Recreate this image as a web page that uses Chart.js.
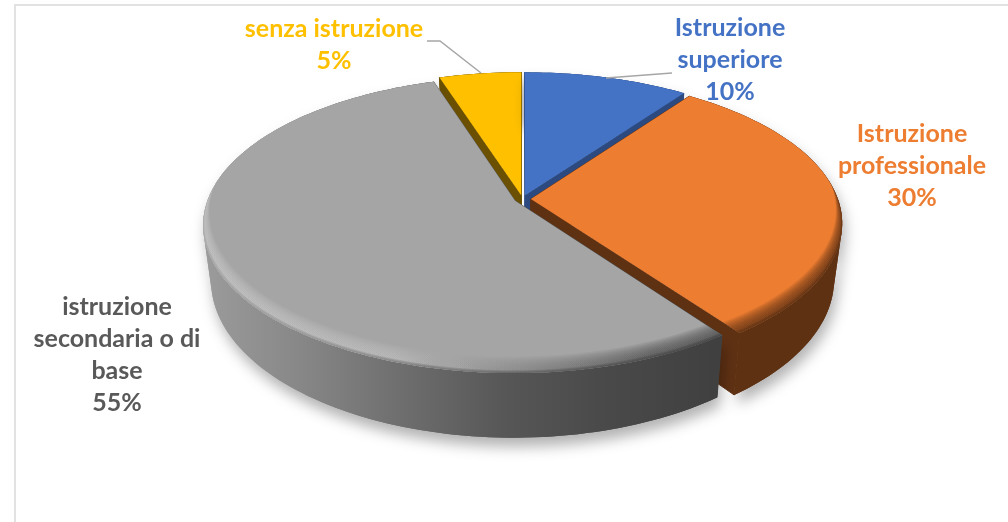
<!DOCTYPE html>
<html>
<head>
<meta charset="utf-8">
<script src="https://cdn.jsdelivr.net/npm/chart.js@4"></script>
<style>
  body { margin: 0; background: #fff; overflow: hidden; }
  #cornice { position: absolute; left: 14px; top: 4px; right: 0; bottom: 0; border-top: 2px solid #e2e2e2; border-left: 2px solid #e2e2e2; }
  canvas { position: absolute; left: 0; top: 0; }
</style>
</head>
<body>
<div id="cornice"></div>
<canvas id="torta" width="1008" height="522"></canvas>
<script>
var categorie = ['Istruzione superiore', 'Istruzione professionale', 'istruzione secondaria o di base', 'senza istruzione'];
var valori = [10, 30, 55, 5];
var coloriTop = ['#4472C4', '#ED7D31', '#A5A5A5', '#FFC000'];
var coloriTesto = ['#4472C4', '#ED7D31', '#595959', '#FFC000'];
var righeEtichette = [
    ['Istruzione', 'superiore'],
    ['Istruzione', 'professionale'],
    ['istruzione', 'secondaria o di', 'base'],
    ['senza istruzione']
];
// centro del blocco di testo e leader, in pixel
var posEtichette = [[730, 60], [912, 166], [117, 355], [334, 45]];
var leader = [[[606, 78], [672, 73]], null, null, [[427, 41], [440, 41], [481, 73]]];

// parametri della vista 3D
var X0 = 522.5, Y0 = 199, RX = 307, RY = 143.9, PERSP = 0.1614, DEPTH = 54, BASE = 0.975;

function sfumaturaLato(ctx, i) {
    var g = ctx.createLinearGradient(200, 0, 845, 0);
    if (i === 2) {
        g.addColorStop(0, '#9c9c9c');
        g.addColorStop(0.15, '#888888');
        g.addColorStop(0.3, '#707070');
        g.addColorStop(0.47, '#575757');
        g.addColorStop(0.62, '#4a4a4a');
        g.addColorStop(0.8, '#404040');
        g.addColorStop(1, '#404040');
    } else if (i === 1) {
        g.addColorStop(0, '#5f3113');
        g.addColorStop(1, '#5f3113');
    } else if (i === 0) {
        g.addColorStop(0, '#2c4a80');
        g.addColorStop(1, '#2c4a80');
    } else {
        g.addColorStop(0, '#6a5000');
        g.addColorStop(1, '#6a5000');
    }
    return g;
}

function sfumaturaBordo(ctx, i) {
    var g = ctx.createLinearGradient(200, 0, 845, 0);
    if (i === 2) {
        g.addColorStop(0, '#c6c6c6');
        g.addColorStop(0.3, '#bcbcbc');
        g.addColorStop(0.47, '#8c8c8c');
        g.addColorStop(0.7, '#505050');
        g.addColorStop(1, '#404040');
    } else if (i === 1) {
        g.addColorStop(0, '#5f3113');
        g.addColorStop(1, '#5f3113');
    } else {
        g.addColorStop(0, coloriTop[i]);
        g.addColorStop(1, coloriTop[i]);
    }
    return g;
}

var torta3d = {
    id: 'torta3d',
    beforeDatasetsDraw: function (chart) {
        var ctx = chart.ctx;
        var archi = chart.getDatasetMeta(0).data.map(function (el, i) {
            var a0 = el.startAngle, a1 = el.endAngle, mid = (a0 + a1) / 2;
            var off = el.options.offset || 0;
            return { i: i, a0: a0, a1: a1, R: el.outerRadius,
                dx: Math.cos(mid) * off / el.outerRadius,
                dy: Math.sin(mid) * off / el.outerRadius,
                v: Math.sin(mid) };
        });
        // dal fondo verso il davanti
        archi.sort(function (p, q) { return p.v - q.v; });

        function punto(arco, a, r, basso, su) {
            var u = arco.dx + r * Math.cos(a);
            var v = arco.dy + r * Math.sin(a);
            var k = 1 / (1 - PERSP * v);
            var s = basso ? BASE : 1;
            return [X0 + RX * u * k * s, Y0 + RY * v * k + (basso ? DEPTH * k : 0) - (su || 0)];
        }
        function tracciaArco(arco, a0, a1, r, basso, su, inizio) {
            var n = Math.max(2, Math.ceil(Math.abs(a1 - a0) * 40));
            for (var j = 0; j <= n; j++) {
                var p = punto(arco, a0 + (a1 - a0) * j / n, r, basso, su);
                if (j === 0 && inizio) ctx.moveTo(p[0], p[1]); else ctx.lineTo(p[0], p[1]);
            }
        }
        function pathTop(arco) {
            ctx.beginPath();
            var c = punto(arco, 0, 0, false);
            ctx.moveTo(c[0], c[1]);
            tracciaArco(arco, arco.a0, arco.a1, 1, false, 0, false);
            ctx.closePath();
        }
        function pathRaggio(arco, a) {
            var c = punto(arco, 0, 0, false), cb = punto(arco, 0, 0, true);
            var p = punto(arco, a, 1, false), pb = punto(arco, a, 1, true);
            ctx.beginPath();
            ctx.moveTo(c[0], c[1]);
            ctx.lineTo(p[0], p[1]);
            ctx.lineTo(pb[0], pb[1]);
            ctx.lineTo(cb[0], cb[1]);
            ctx.closePath();
        }
        // lato esterno come unione di quadrilateri orientati tutti uguali
        function pathLato(arco) {
            ctx.beginPath();
            var n = Math.max(2, Math.ceil((arco.a1 - arco.a0) * 40));
            for (var j = 0; j < n; j++) {
                var a = arco.a0 + (arco.a1 - arco.a0) * j / n;
                var b = arco.a0 + (arco.a1 - arco.a0) * (j + 1) / n;
                var q = [punto(arco, a, 1, false), punto(arco, b, 1, false), punto(arco, b, 1, true), punto(arco, a, 1, true)];
                var area = 0;
                for (var m = 0; m < 4; m++) {
                    var s = q[m], e = q[(m + 1) % 4];
                    area += s[0] * e[1] - e[0] * s[1];
                }
                if (area < 0) q.reverse();
                ctx.moveTo(q[0][0], q[0][1]);
                ctx.lineTo(q[1][0], q[1][1]);
                ctx.lineTo(q[2][0], q[2][1]);
                ctx.lineTo(q[3][0], q[3][1]);
                ctx.closePath();
            }
        }

        archi.forEach(function (arco) {
            var i = arco.i;
            // ombra morbida sotto il blocco
            ctx.save();
            ctx.shadowColor = 'rgba(0,0,0,0.3)';
            ctx.shadowBlur = 14;
            ctx.shadowOffsetX = 3;
            ctx.shadowOffsetY = 9;
            ctx.fillStyle = sfumaturaLato(ctx, i);
            pathLato(arco);
            ctx.fill();
            ctx.restore();

            ctx.fillStyle = sfumaturaLato(ctx, i);
            ctx.strokeStyle = ctx.fillStyle;
            ctx.lineWidth = 1;
            pathRaggio(arco, arco.a0);
            ctx.fill();
            ctx.stroke();
            pathRaggio(arco, arco.a1);
            ctx.fill();
            ctx.stroke();
            pathLato(arco);
            ctx.fill();

            // faccia superiore
            ctx.fillStyle = coloriTop[i];
            pathTop(arco);
            ctx.fill();

            // bordo smussato: corona tra la faccia e un disco spostato in alto
            ctx.save();
            pathTop(arco);
            ctx.clip();
            var t;
            ctx.fillStyle = sfumaturaBordo(ctx, i);
            ctx.globalAlpha = 0.11;
            for (t = 1; t <= 14; t++) {
                ctx.beginPath();
                ctx.rect(0, 0, chart.width, chart.height);
                tracciaArco(arco, 0, Math.PI * 2, 1 - t * 0.0014, false, t * 0.9, true);
                ctx.closePath();
                ctx.fill('evenodd');
            }
            // l'ultimo filo si fonde con il lato
            ctx.fillStyle = sfumaturaLato(ctx, i);
            ctx.globalAlpha = 0.3;
            for (t = 1; t <= 3; t++) {
                ctx.beginPath();
                ctx.rect(0, 0, chart.width, chart.height);
                tracciaArco(arco, 0, Math.PI * 2, 1 - t * 0.0012, false, t * 0.7, true);
                ctx.closePath();
                ctx.fill('evenodd');
            }
            ctx.restore();
        });
        return false;
    },
    afterDraw: function (chart) {
        var ctx = chart.ctx;
        ctx.save();
        // leader
        ctx.strokeStyle = '#a6a6a6';
        ctx.lineWidth = 1.5;
        leader.forEach(function (linea) {
            if (!linea) return;
            ctx.beginPath();
            linea.forEach(function (p, j) {
                if (j === 0) ctx.moveTo(p[0], p[1]); else ctx.lineTo(p[0], p[1]);
            });
            ctx.stroke();
        });
        // etichette
        ctx.font = 'bold 25px Lato, sans-serif';
        ctx.textAlign = 'center';
        ctx.textBaseline = 'middle';
        valori.forEach(function (val, i) {
            var righe = righeEtichette[i].concat([val + '%']);
            var y = posEtichette[i][1] - (righe.length - 1) * 16;
            ctx.fillStyle = coloriTesto[i];
            righe.forEach(function (riga, j) {
                ctx.fillText(riga, posEtichette[i][0], y + j * 32);
            });
        });
        ctx.restore();
    }
};

new Chart(document.getElementById('torta').getContext('2d'), {
    type: 'pie',
    data: {
        labels: categorie,
        datasets: [{
            data: valori,
            backgroundColor: coloriTop,
            borderWidth: 0,
            offset: 7
        }]
    },
    options: {
        responsive: false,
        animation: false,
        plugins: { legend: { display: false }, tooltip: { enabled: false } }
    },
    plugins: [torta3d]
});
</script>
</body>
</html>
